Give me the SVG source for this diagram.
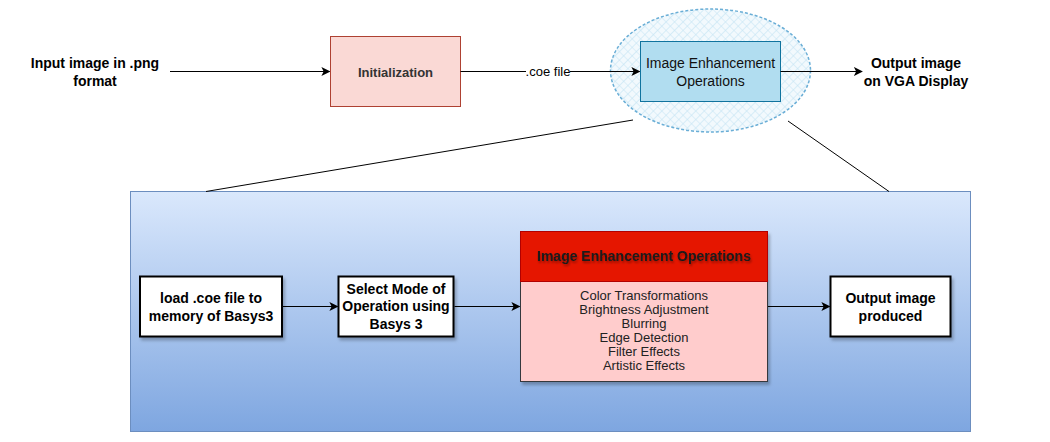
<svg xmlns="http://www.w3.org/2000/svg" width="1050" height="442" viewBox="0 0 1050 442">
<style>
  .lbl { font-family: "Liberation Sans", Arial, sans-serif; font-weight: bold; font-size: 14px; fill: #000; text-anchor: middle; }
  .reg { font-family: "Liberation Sans", Arial, sans-serif; font-size: 13px; text-anchor: middle; }
  .edge { stroke: #000; stroke-width: 1; fill: none; }
  .node { fill: #fff; stroke: #000; stroke-width: 2; }
</style>
<defs>
  <marker id="arr" viewBox="0 0 10 10" refX="9" refY="5" markerWidth="9" markerHeight="9" markerUnits="userSpaceOnUse" orient="auto">
    <path d="M0,0 L10,5 L0,10 L2.5,5 Z" fill="#000"/>
  </marker>
  <linearGradient id="bg" x1="0" y1="0" x2="0" y2="1">
    <stop offset="0" stop-color="#dae8fc"/>
    <stop offset="1" stop-color="#7ea6e0"/>
  </linearGradient>
  <pattern id="hatch" width="6" height="6" patternUnits="userSpaceOnUse" patternTransform="rotate(45)">
    <rect width="6" height="6" fill="#f2f9fd"/>
    <path d="M0,0 L0,6 M0,0 L6,0" stroke="#c4e4f3" stroke-width="1.2"/>
  </pattern>
  <filter id="sh" x="-10%" y="-10%" width="130%" height="130%">
    <feDropShadow dx="2" dy="3" stdDeviation="1.5" flood-color="#000" flood-opacity="0.25"/>
  </filter>
  <filter id="tsh" x="-10%" y="-30%" width="130%" height="180%">
    <feDropShadow dx="1" dy="2" stdDeviation="1.2" flood-color="#000" flood-opacity="0.35"/>
  </filter>
</defs>

<g id="input-label">
  <text class="lbl" x="95" y="68">Input image in .png</text>
  <text class="lbl" x="95" y="86">format</text>
</g>

<g id="initialization">
  <rect x="330.5" y="36.5" width="130" height="70" fill="#fad9d5" stroke="#ae4132"/>
  <text class="lbl" x="395.5" y="76.5" style="font-size:13px;fill:#333">Initialization</text>
</g>

<g id="ellipse-highlight">
  <ellipse cx="710.5" cy="70.5" rx="100" ry="61.5" fill="url(#hatch)" stroke="#6aaed6" stroke-width="1.5" stroke-dasharray="3 2"/>
</g>

<g id="ieo-top">
  <rect x="640.5" y="41.5" width="140" height="60" fill="#b1ddf0" stroke="#10739e"/>
  <text class="reg" x="710.5" y="68" style="font-size:14px;fill:#111">Image Enhancement</text>
  <text class="reg" x="710.5" y="85.5" style="font-size:14px;fill:#111">Operations</text>
</g>

<g id="output-vga">
  <text class="lbl" x="916" y="68">Output image</text>
  <text class="lbl" x="916" y="86">on VGA Display</text>
</g>

<g id="detail-panel">
  <rect x="130.5" y="191.5" width="840" height="240" fill="url(#bg)" stroke="#6c8ebf"/>
</g>

<g id="load-coe">
  <rect class="node" x="140" y="276.5" width="142" height="60" filter="url(#sh)"/>
  <text class="lbl" x="211" y="303">load .coe file to</text>
  <text class="lbl" x="211" y="320.5">memory of Basys3</text>
</g>

<g id="select-mode">
  <rect class="node" x="338.5" y="276.5" width="115" height="60" filter="url(#sh)"/>
  <text class="lbl" x="396" y="294">Select Mode of</text>
  <text class="lbl" x="396" y="311">Operation using</text>
  <text class="lbl" x="396" y="328.5">Basys 3</text>
</g>

<g id="ieo-detail">
  <g filter="url(#sh)">
    <rect x="520.5" y="281.5" width="247" height="100" fill="#ffcccc" stroke="#36393d"/>
    <rect x="520.5" y="231.5" width="247" height="50" fill="#e51400" stroke="#b20000"/>
  </g>
  <text class="lbl" x="644" y="261" style="fill:#1a1a1a" filter="url(#tsh)">Image Enhancement Operations</text>
  <g class="reg" style="fill:#222">
    <text x="644" y="299.5">Color Transformations</text>
    <text x="644" y="313.5">Brightness Adjustment</text>
    <text x="644" y="327.5">Blurring</text>
    <text x="644" y="341.5">Edge Detection</text>
    <text x="644" y="355.5">Filter Effects</text>
    <text x="644" y="369.5">Artistic Effects</text>
  </g>
</g>

<g id="output-produced">
  <rect class="node" x="830.5" y="276.5" width="120" height="60" filter="url(#sh)"/>
  <text class="lbl" x="890.5" y="303">Output image</text>
  <text class="lbl" x="890.5" y="320.5">produced</text>
</g>

<g id="connectors">
  <line class="edge" x1="170" y1="71.5" x2="329.5" y2="71.5" marker-end="url(#arr)"/>
  <line class="edge" x1="460.5" y1="71.5" x2="526" y2="71.5"/>
  <line class="edge" x1="570" y1="71.5" x2="639.5" y2="71.5" marker-end="url(#arr)"/>
  <text class="reg" x="548" y="76" style="fill:#000">.coe file</text>
  <line class="edge" x1="780.5" y1="71.5" x2="862" y2="71.5" marker-end="url(#arr)"/>
  <line class="edge" x1="633" y1="120" x2="206" y2="191.5"/>
  <line class="edge" x1="788" y1="121" x2="889" y2="191.5"/>
  <line class="edge" x1="283" y1="306.5" x2="337.5" y2="306.5" marker-end="url(#arr)"/>
  <line class="edge" x1="454.5" y1="306.5" x2="519.5" y2="306.5" marker-end="url(#arr)"/>
  <line class="edge" x1="768" y1="306.5" x2="829.5" y2="306.5" marker-end="url(#arr)"/>
</g>
</svg>
